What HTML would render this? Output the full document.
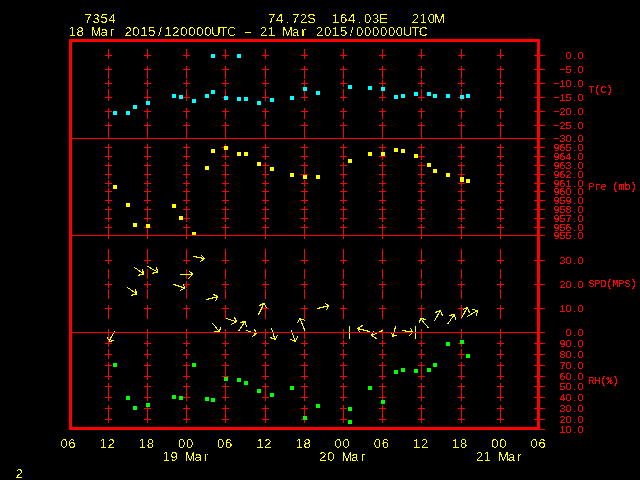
<!DOCTYPE html>
<html><head><meta charset="utf-8"><title>Meteogram 7354</title>
<style>
html,body{margin:0;padding:0;background:#000;}
body{width:640px;height:480px;overflow:hidden;}
svg{display:block;}
.y{fill:#ff0;font-family:"Liberation Sans",sans-serif;font-size:13px;text-anchor:middle;}
.r{fill:#f00;font-family:"Liberation Sans",sans-serif;font-size:10px;text-anchor:middle;}
.rm{fill:#f00;font-family:"Liberation Mono",monospace;font-size:10px;text-anchor:middle;}
</style></head><body>
<svg width="640" height="480" viewBox="0 0 640 480">
<defs><filter id="bin" x="0" y="0" width="640" height="480" filterUnits="userSpaceOnUse" color-interpolation-filters="sRGB"><feComponentTransfer><feFuncA type="discrete" tableValues="0 0 0 0 0 0 0 0 1 1 1 1 1 1 1 1 1 1 1 1"/></feComponentTransfer></filter><filter id="biny" x="0" y="0" width="640" height="480" filterUnits="userSpaceOnUse" color-interpolation-filters="sRGB"><feComponentTransfer><feFuncA type="discrete" tableValues="0 0 0 0 0 0 0 0 0 0 0 0 1 1 1 1 1 1 1 1"/></feComponentTransfer></filter><filter id="bina" x="0" y="0" width="640" height="480" filterUnits="userSpaceOnUse" color-interpolation-filters="sRGB"><feComponentTransfer><feFuncA type="discrete" tableValues="0 0 0 0 0 0 0 0 1 1 1 1 1 1 1 1 1 1 1 1"/></feComponentTransfer></filter></defs>
<rect width="640" height="480" fill="#000"/>
<g shape-rendering="crispEdges">

<g fill="#f00">
<rect x="108" y="49" width="1" height="10"/>
<rect x="108" y="66" width="1" height="13"/>
<rect x="108" y="80" width="1" height="7"/>
<rect x="108" y="89" width="1" height="12"/>
<rect x="108" y="108" width="1" height="11"/>
<rect x="108" y="122" width="1" height="17"/>
<rect x="108" y="144" width="1" height="16"/>
<rect x="108" y="162" width="1" height="17"/>
<rect x="108" y="180" width="1" height="7"/>
<rect x="108" y="188" width="1" height="16"/>
<rect x="108" y="206" width="1" height="16"/>
<rect x="108" y="224" width="1" height="15"/>
<rect x="108" y="249" width="1" height="15"/>
<rect x="108" y="269" width="1" height="10"/>
<rect x="108" y="281" width="1" height="7"/>
<rect x="108" y="289" width="1" height="10"/>
<rect x="108" y="305" width="1" height="14"/>
<rect x="108" y="329" width="1" height="3"/>
<rect x="105" y="55" width="7" height="1"/>
<rect x="105" y="69" width="7" height="1"/>
<rect x="105" y="83" width="7" height="1"/>
<rect x="105" y="97" width="7" height="1"/>
<rect x="105" y="111" width="7" height="1"/>
<rect x="105" y="125" width="7" height="1"/>
<rect x="105" y="147" width="7" height="1"/>
<rect x="105" y="156" width="7" height="1"/>
<rect x="105" y="165" width="7" height="1"/>
<rect x="105" y="174" width="7" height="1"/>
<rect x="105" y="183" width="7" height="1"/>
<rect x="105" y="191" width="7" height="1"/>
<rect x="105" y="200" width="7" height="1"/>
<rect x="105" y="209" width="7" height="1"/>
<rect x="105" y="218" width="7" height="1"/>
<rect x="105" y="227" width="7" height="1"/>
<rect x="105" y="260" width="7" height="1"/>
<rect x="105" y="284" width="7" height="1"/>
<rect x="105" y="308" width="7" height="1"/>
<rect x="147" y="49" width="1" height="10"/>
<rect x="147" y="66" width="1" height="13"/>
<rect x="147" y="80" width="1" height="7"/>
<rect x="147" y="89" width="1" height="12"/>
<rect x="147" y="108" width="1" height="11"/>
<rect x="147" y="122" width="1" height="17"/>
<rect x="147" y="144" width="1" height="16"/>
<rect x="147" y="162" width="1" height="17"/>
<rect x="147" y="180" width="1" height="7"/>
<rect x="147" y="188" width="1" height="16"/>
<rect x="147" y="206" width="1" height="16"/>
<rect x="147" y="224" width="1" height="15"/>
<rect x="147" y="249" width="1" height="15"/>
<rect x="147" y="269" width="1" height="10"/>
<rect x="147" y="281" width="1" height="7"/>
<rect x="147" y="289" width="1" height="10"/>
<rect x="147" y="305" width="1" height="14"/>
<rect x="147" y="329" width="1" height="3"/>
<rect x="144" y="55" width="7" height="1"/>
<rect x="144" y="69" width="7" height="1"/>
<rect x="144" y="83" width="7" height="1"/>
<rect x="144" y="97" width="7" height="1"/>
<rect x="144" y="111" width="7" height="1"/>
<rect x="144" y="125" width="7" height="1"/>
<rect x="144" y="147" width="7" height="1"/>
<rect x="144" y="156" width="7" height="1"/>
<rect x="144" y="165" width="7" height="1"/>
<rect x="144" y="174" width="7" height="1"/>
<rect x="144" y="183" width="7" height="1"/>
<rect x="144" y="191" width="7" height="1"/>
<rect x="144" y="200" width="7" height="1"/>
<rect x="144" y="209" width="7" height="1"/>
<rect x="144" y="218" width="7" height="1"/>
<rect x="144" y="227" width="7" height="1"/>
<rect x="144" y="260" width="7" height="1"/>
<rect x="144" y="284" width="7" height="1"/>
<rect x="144" y="308" width="7" height="1"/>
<rect x="186" y="49" width="1" height="10"/>
<rect x="186" y="66" width="1" height="13"/>
<rect x="186" y="80" width="1" height="7"/>
<rect x="186" y="89" width="1" height="12"/>
<rect x="186" y="108" width="1" height="11"/>
<rect x="186" y="122" width="1" height="17"/>
<rect x="186" y="144" width="1" height="16"/>
<rect x="186" y="162" width="1" height="17"/>
<rect x="186" y="180" width="1" height="7"/>
<rect x="186" y="188" width="1" height="16"/>
<rect x="186" y="206" width="1" height="16"/>
<rect x="186" y="224" width="1" height="15"/>
<rect x="186" y="249" width="1" height="15"/>
<rect x="186" y="269" width="1" height="10"/>
<rect x="186" y="281" width="1" height="7"/>
<rect x="186" y="289" width="1" height="10"/>
<rect x="186" y="305" width="1" height="14"/>
<rect x="186" y="329" width="1" height="3"/>
<rect x="183" y="55" width="7" height="1"/>
<rect x="183" y="69" width="7" height="1"/>
<rect x="183" y="83" width="7" height="1"/>
<rect x="183" y="97" width="7" height="1"/>
<rect x="183" y="111" width="7" height="1"/>
<rect x="183" y="125" width="7" height="1"/>
<rect x="183" y="147" width="7" height="1"/>
<rect x="183" y="156" width="7" height="1"/>
<rect x="183" y="165" width="7" height="1"/>
<rect x="183" y="174" width="7" height="1"/>
<rect x="183" y="183" width="7" height="1"/>
<rect x="183" y="191" width="7" height="1"/>
<rect x="183" y="200" width="7" height="1"/>
<rect x="183" y="209" width="7" height="1"/>
<rect x="183" y="218" width="7" height="1"/>
<rect x="183" y="227" width="7" height="1"/>
<rect x="183" y="260" width="7" height="1"/>
<rect x="183" y="284" width="7" height="1"/>
<rect x="183" y="308" width="7" height="1"/>
<rect x="225" y="49" width="1" height="10"/>
<rect x="225" y="66" width="1" height="13"/>
<rect x="225" y="80" width="1" height="7"/>
<rect x="225" y="89" width="1" height="12"/>
<rect x="225" y="108" width="1" height="11"/>
<rect x="225" y="122" width="1" height="17"/>
<rect x="225" y="144" width="1" height="16"/>
<rect x="225" y="162" width="1" height="17"/>
<rect x="225" y="180" width="1" height="7"/>
<rect x="225" y="188" width="1" height="16"/>
<rect x="225" y="206" width="1" height="16"/>
<rect x="225" y="224" width="1" height="15"/>
<rect x="225" y="249" width="1" height="15"/>
<rect x="225" y="269" width="1" height="10"/>
<rect x="225" y="281" width="1" height="7"/>
<rect x="225" y="289" width="1" height="10"/>
<rect x="225" y="305" width="1" height="14"/>
<rect x="225" y="329" width="1" height="3"/>
<rect x="222" y="55" width="7" height="1"/>
<rect x="222" y="69" width="7" height="1"/>
<rect x="222" y="83" width="7" height="1"/>
<rect x="222" y="97" width="7" height="1"/>
<rect x="222" y="111" width="7" height="1"/>
<rect x="222" y="125" width="7" height="1"/>
<rect x="222" y="147" width="7" height="1"/>
<rect x="222" y="156" width="7" height="1"/>
<rect x="222" y="165" width="7" height="1"/>
<rect x="222" y="174" width="7" height="1"/>
<rect x="222" y="183" width="7" height="1"/>
<rect x="222" y="191" width="7" height="1"/>
<rect x="222" y="200" width="7" height="1"/>
<rect x="222" y="209" width="7" height="1"/>
<rect x="222" y="218" width="7" height="1"/>
<rect x="222" y="227" width="7" height="1"/>
<rect x="222" y="260" width="7" height="1"/>
<rect x="222" y="284" width="7" height="1"/>
<rect x="222" y="308" width="7" height="1"/>
<rect x="265" y="49" width="1" height="10"/>
<rect x="265" y="66" width="1" height="13"/>
<rect x="265" y="80" width="1" height="7"/>
<rect x="265" y="89" width="1" height="12"/>
<rect x="265" y="108" width="1" height="11"/>
<rect x="265" y="122" width="1" height="17"/>
<rect x="265" y="144" width="1" height="16"/>
<rect x="265" y="162" width="1" height="17"/>
<rect x="265" y="180" width="1" height="7"/>
<rect x="265" y="188" width="1" height="16"/>
<rect x="265" y="206" width="1" height="16"/>
<rect x="265" y="224" width="1" height="15"/>
<rect x="265" y="249" width="1" height="15"/>
<rect x="265" y="269" width="1" height="10"/>
<rect x="265" y="281" width="1" height="7"/>
<rect x="265" y="289" width="1" height="10"/>
<rect x="265" y="305" width="1" height="14"/>
<rect x="265" y="329" width="1" height="3"/>
<rect x="262" y="55" width="7" height="1"/>
<rect x="262" y="69" width="7" height="1"/>
<rect x="262" y="83" width="7" height="1"/>
<rect x="262" y="97" width="7" height="1"/>
<rect x="262" y="111" width="7" height="1"/>
<rect x="262" y="125" width="7" height="1"/>
<rect x="262" y="147" width="7" height="1"/>
<rect x="262" y="156" width="7" height="1"/>
<rect x="262" y="165" width="7" height="1"/>
<rect x="262" y="174" width="7" height="1"/>
<rect x="262" y="183" width="7" height="1"/>
<rect x="262" y="191" width="7" height="1"/>
<rect x="262" y="200" width="7" height="1"/>
<rect x="262" y="209" width="7" height="1"/>
<rect x="262" y="218" width="7" height="1"/>
<rect x="262" y="227" width="7" height="1"/>
<rect x="262" y="260" width="7" height="1"/>
<rect x="262" y="284" width="7" height="1"/>
<rect x="262" y="308" width="7" height="1"/>
<rect x="304" y="49" width="1" height="10"/>
<rect x="304" y="66" width="1" height="13"/>
<rect x="304" y="80" width="1" height="7"/>
<rect x="304" y="89" width="1" height="12"/>
<rect x="304" y="108" width="1" height="11"/>
<rect x="304" y="122" width="1" height="17"/>
<rect x="304" y="144" width="1" height="16"/>
<rect x="304" y="162" width="1" height="17"/>
<rect x="304" y="180" width="1" height="7"/>
<rect x="304" y="188" width="1" height="16"/>
<rect x="304" y="206" width="1" height="16"/>
<rect x="304" y="224" width="1" height="15"/>
<rect x="304" y="249" width="1" height="15"/>
<rect x="304" y="269" width="1" height="10"/>
<rect x="304" y="281" width="1" height="7"/>
<rect x="304" y="289" width="1" height="10"/>
<rect x="304" y="305" width="1" height="14"/>
<rect x="304" y="329" width="1" height="3"/>
<rect x="301" y="55" width="7" height="1"/>
<rect x="301" y="69" width="7" height="1"/>
<rect x="301" y="83" width="7" height="1"/>
<rect x="301" y="97" width="7" height="1"/>
<rect x="301" y="111" width="7" height="1"/>
<rect x="301" y="125" width="7" height="1"/>
<rect x="301" y="147" width="7" height="1"/>
<rect x="301" y="156" width="7" height="1"/>
<rect x="301" y="165" width="7" height="1"/>
<rect x="301" y="174" width="7" height="1"/>
<rect x="301" y="183" width="7" height="1"/>
<rect x="301" y="191" width="7" height="1"/>
<rect x="301" y="200" width="7" height="1"/>
<rect x="301" y="209" width="7" height="1"/>
<rect x="301" y="218" width="7" height="1"/>
<rect x="301" y="227" width="7" height="1"/>
<rect x="301" y="260" width="7" height="1"/>
<rect x="301" y="284" width="7" height="1"/>
<rect x="301" y="308" width="7" height="1"/>
<rect x="343" y="49" width="1" height="10"/>
<rect x="343" y="66" width="1" height="13"/>
<rect x="343" y="80" width="1" height="7"/>
<rect x="343" y="89" width="1" height="12"/>
<rect x="343" y="108" width="1" height="11"/>
<rect x="343" y="122" width="1" height="17"/>
<rect x="343" y="144" width="1" height="16"/>
<rect x="343" y="162" width="1" height="17"/>
<rect x="343" y="180" width="1" height="7"/>
<rect x="343" y="188" width="1" height="16"/>
<rect x="343" y="206" width="1" height="16"/>
<rect x="343" y="224" width="1" height="15"/>
<rect x="343" y="249" width="1" height="15"/>
<rect x="343" y="269" width="1" height="10"/>
<rect x="343" y="281" width="1" height="7"/>
<rect x="343" y="289" width="1" height="10"/>
<rect x="343" y="305" width="1" height="14"/>
<rect x="343" y="329" width="1" height="3"/>
<rect x="340" y="55" width="7" height="1"/>
<rect x="340" y="69" width="7" height="1"/>
<rect x="340" y="83" width="7" height="1"/>
<rect x="340" y="97" width="7" height="1"/>
<rect x="340" y="111" width="7" height="1"/>
<rect x="340" y="125" width="7" height="1"/>
<rect x="340" y="147" width="7" height="1"/>
<rect x="340" y="156" width="7" height="1"/>
<rect x="340" y="165" width="7" height="1"/>
<rect x="340" y="174" width="7" height="1"/>
<rect x="340" y="183" width="7" height="1"/>
<rect x="340" y="191" width="7" height="1"/>
<rect x="340" y="200" width="7" height="1"/>
<rect x="340" y="209" width="7" height="1"/>
<rect x="340" y="218" width="7" height="1"/>
<rect x="340" y="227" width="7" height="1"/>
<rect x="340" y="260" width="7" height="1"/>
<rect x="340" y="284" width="7" height="1"/>
<rect x="340" y="308" width="7" height="1"/>
<rect x="382" y="49" width="1" height="10"/>
<rect x="382" y="66" width="1" height="13"/>
<rect x="382" y="80" width="1" height="7"/>
<rect x="382" y="89" width="1" height="12"/>
<rect x="382" y="108" width="1" height="11"/>
<rect x="382" y="122" width="1" height="17"/>
<rect x="382" y="144" width="1" height="16"/>
<rect x="382" y="162" width="1" height="17"/>
<rect x="382" y="180" width="1" height="7"/>
<rect x="382" y="188" width="1" height="16"/>
<rect x="382" y="206" width="1" height="16"/>
<rect x="382" y="224" width="1" height="15"/>
<rect x="382" y="249" width="1" height="15"/>
<rect x="382" y="269" width="1" height="10"/>
<rect x="382" y="281" width="1" height="7"/>
<rect x="382" y="289" width="1" height="10"/>
<rect x="382" y="305" width="1" height="14"/>
<rect x="382" y="329" width="1" height="3"/>
<rect x="379" y="55" width="7" height="1"/>
<rect x="379" y="69" width="7" height="1"/>
<rect x="379" y="83" width="7" height="1"/>
<rect x="379" y="97" width="7" height="1"/>
<rect x="379" y="111" width="7" height="1"/>
<rect x="379" y="125" width="7" height="1"/>
<rect x="379" y="147" width="7" height="1"/>
<rect x="379" y="156" width="7" height="1"/>
<rect x="379" y="165" width="7" height="1"/>
<rect x="379" y="174" width="7" height="1"/>
<rect x="379" y="183" width="7" height="1"/>
<rect x="379" y="191" width="7" height="1"/>
<rect x="379" y="200" width="7" height="1"/>
<rect x="379" y="209" width="7" height="1"/>
<rect x="379" y="218" width="7" height="1"/>
<rect x="379" y="227" width="7" height="1"/>
<rect x="379" y="260" width="7" height="1"/>
<rect x="379" y="284" width="7" height="1"/>
<rect x="379" y="308" width="7" height="1"/>
<rect x="421" y="49" width="1" height="10"/>
<rect x="421" y="66" width="1" height="13"/>
<rect x="421" y="80" width="1" height="7"/>
<rect x="421" y="89" width="1" height="12"/>
<rect x="421" y="108" width="1" height="11"/>
<rect x="421" y="122" width="1" height="17"/>
<rect x="421" y="144" width="1" height="16"/>
<rect x="421" y="162" width="1" height="17"/>
<rect x="421" y="180" width="1" height="7"/>
<rect x="421" y="188" width="1" height="16"/>
<rect x="421" y="206" width="1" height="16"/>
<rect x="421" y="224" width="1" height="15"/>
<rect x="421" y="249" width="1" height="15"/>
<rect x="421" y="269" width="1" height="10"/>
<rect x="421" y="281" width="1" height="7"/>
<rect x="421" y="289" width="1" height="10"/>
<rect x="421" y="305" width="1" height="14"/>
<rect x="421" y="329" width="1" height="3"/>
<rect x="418" y="55" width="7" height="1"/>
<rect x="418" y="69" width="7" height="1"/>
<rect x="418" y="83" width="7" height="1"/>
<rect x="418" y="97" width="7" height="1"/>
<rect x="418" y="111" width="7" height="1"/>
<rect x="418" y="125" width="7" height="1"/>
<rect x="418" y="147" width="7" height="1"/>
<rect x="418" y="156" width="7" height="1"/>
<rect x="418" y="165" width="7" height="1"/>
<rect x="418" y="174" width="7" height="1"/>
<rect x="418" y="183" width="7" height="1"/>
<rect x="418" y="191" width="7" height="1"/>
<rect x="418" y="200" width="7" height="1"/>
<rect x="418" y="209" width="7" height="1"/>
<rect x="418" y="218" width="7" height="1"/>
<rect x="418" y="227" width="7" height="1"/>
<rect x="418" y="260" width="7" height="1"/>
<rect x="418" y="284" width="7" height="1"/>
<rect x="418" y="308" width="7" height="1"/>
<rect x="461" y="49" width="1" height="10"/>
<rect x="461" y="66" width="1" height="13"/>
<rect x="461" y="80" width="1" height="7"/>
<rect x="461" y="89" width="1" height="12"/>
<rect x="461" y="108" width="1" height="11"/>
<rect x="461" y="122" width="1" height="17"/>
<rect x="461" y="144" width="1" height="16"/>
<rect x="461" y="162" width="1" height="17"/>
<rect x="461" y="180" width="1" height="7"/>
<rect x="461" y="188" width="1" height="16"/>
<rect x="461" y="206" width="1" height="16"/>
<rect x="461" y="224" width="1" height="15"/>
<rect x="461" y="249" width="1" height="15"/>
<rect x="461" y="269" width="1" height="10"/>
<rect x="461" y="281" width="1" height="7"/>
<rect x="461" y="289" width="1" height="10"/>
<rect x="461" y="305" width="1" height="14"/>
<rect x="461" y="329" width="1" height="3"/>
<rect x="458" y="55" width="7" height="1"/>
<rect x="458" y="69" width="7" height="1"/>
<rect x="458" y="83" width="7" height="1"/>
<rect x="458" y="97" width="7" height="1"/>
<rect x="458" y="111" width="7" height="1"/>
<rect x="458" y="125" width="7" height="1"/>
<rect x="458" y="147" width="7" height="1"/>
<rect x="458" y="156" width="7" height="1"/>
<rect x="458" y="165" width="7" height="1"/>
<rect x="458" y="174" width="7" height="1"/>
<rect x="458" y="183" width="7" height="1"/>
<rect x="458" y="191" width="7" height="1"/>
<rect x="458" y="200" width="7" height="1"/>
<rect x="458" y="209" width="7" height="1"/>
<rect x="458" y="218" width="7" height="1"/>
<rect x="458" y="227" width="7" height="1"/>
<rect x="458" y="260" width="7" height="1"/>
<rect x="458" y="284" width="7" height="1"/>
<rect x="458" y="308" width="7" height="1"/>
<rect x="500" y="49" width="1" height="10"/>
<rect x="500" y="66" width="1" height="13"/>
<rect x="500" y="80" width="1" height="7"/>
<rect x="500" y="89" width="1" height="12"/>
<rect x="500" y="108" width="1" height="11"/>
<rect x="500" y="122" width="1" height="17"/>
<rect x="500" y="144" width="1" height="16"/>
<rect x="500" y="162" width="1" height="17"/>
<rect x="500" y="180" width="1" height="7"/>
<rect x="500" y="188" width="1" height="16"/>
<rect x="500" y="206" width="1" height="16"/>
<rect x="500" y="224" width="1" height="15"/>
<rect x="500" y="249" width="1" height="15"/>
<rect x="500" y="269" width="1" height="10"/>
<rect x="500" y="281" width="1" height="7"/>
<rect x="500" y="289" width="1" height="10"/>
<rect x="500" y="305" width="1" height="14"/>
<rect x="500" y="329" width="1" height="3"/>
<rect x="497" y="55" width="7" height="1"/>
<rect x="497" y="69" width="7" height="1"/>
<rect x="497" y="83" width="7" height="1"/>
<rect x="497" y="97" width="7" height="1"/>
<rect x="497" y="111" width="7" height="1"/>
<rect x="497" y="125" width="7" height="1"/>
<rect x="497" y="147" width="7" height="1"/>
<rect x="497" y="156" width="7" height="1"/>
<rect x="497" y="165" width="7" height="1"/>
<rect x="497" y="174" width="7" height="1"/>
<rect x="497" y="183" width="7" height="1"/>
<rect x="497" y="191" width="7" height="1"/>
<rect x="497" y="200" width="7" height="1"/>
<rect x="497" y="209" width="7" height="1"/>
<rect x="497" y="218" width="7" height="1"/>
<rect x="497" y="227" width="7" height="1"/>
<rect x="497" y="260" width="7" height="1"/>
<rect x="497" y="284" width="7" height="1"/>
<rect x="497" y="308" width="7" height="1"/>
<rect x="534" y="55" width="11" height="1"/>
<rect x="534" y="69" width="11" height="1"/>
<rect x="534" y="83" width="11" height="1"/>
<rect x="534" y="97" width="11" height="1"/>
<rect x="534" y="111" width="11" height="1"/>
<rect x="534" y="125" width="11" height="1"/>
<rect x="534" y="147" width="11" height="1"/>
<rect x="534" y="156" width="11" height="1"/>
<rect x="534" y="165" width="11" height="1"/>
<rect x="534" y="174" width="11" height="1"/>
<rect x="534" y="183" width="11" height="1"/>
<rect x="534" y="191" width="11" height="1"/>
<rect x="534" y="200" width="11" height="1"/>
<rect x="534" y="209" width="11" height="1"/>
<rect x="534" y="218" width="11" height="1"/>
<rect x="534" y="227" width="11" height="1"/>
<rect x="534" y="260" width="11" height="1"/>
<rect x="534" y="284" width="11" height="1"/>
<rect x="534" y="308" width="11" height="1"/>
</g>

<g fill="#0ff">
<rect x="113" y="111" width="4" height="4"/>
<rect x="126" y="111" width="4" height="4"/>
<rect x="133" y="105" width="4" height="4"/>
<rect x="146" y="101" width="4" height="4"/>
<rect x="172" y="94" width="4" height="4"/>
<rect x="179" y="95" width="4" height="4"/>
<rect x="192" y="99" width="4" height="4"/>
<rect x="205" y="94" width="4" height="4"/>
<rect x="211" y="90" width="4" height="4"/>
<rect x="211" y="54" width="4" height="4"/>
<rect x="237" y="54" width="4" height="4"/>
<rect x="224" y="96" width="4" height="4"/>
<rect x="237" y="97" width="4" height="4"/>
<rect x="244" y="97" width="4" height="4"/>
<rect x="257" y="101" width="4" height="4"/>
<rect x="270" y="98" width="4" height="4"/>
<rect x="290" y="96" width="4" height="4"/>
<rect x="303" y="87" width="4" height="4"/>
<rect x="316" y="91" width="4" height="4"/>
<rect x="348" y="85" width="4" height="4"/>
<rect x="368" y="86" width="4" height="4"/>
<rect x="381" y="87" width="4" height="4"/>
<rect x="394" y="95" width="4" height="4"/>
<rect x="401" y="94" width="4" height="4"/>
<rect x="414" y="92" width="4" height="4"/>
<rect x="427" y="92" width="4" height="4"/>
<rect x="433" y="94" width="4" height="4"/>
<rect x="446" y="94" width="4" height="4"/>
<rect x="460" y="95" width="4" height="4"/>
<rect x="466" y="94" width="4" height="4"/>
</g>

<rect x="72" y="138" width="473" height="1" fill="#f00"/>
<g fill="#ff0">
<rect x="113" y="185" width="4" height="4"/>
<rect x="126" y="203" width="4" height="4"/>
<rect x="133" y="223" width="4" height="4"/>
<rect x="146" y="224" width="4" height="4"/>
<rect x="172" y="204" width="4" height="4"/>
<rect x="179" y="216" width="4" height="4"/>
<rect x="192" y="232" width="4" height="4"/>
<rect x="205" y="166" width="4" height="4"/>
<rect x="211" y="149" width="4" height="4"/>
<rect x="224" y="146" width="4" height="4"/>
<rect x="237" y="152" width="4" height="4"/>
<rect x="244" y="152" width="4" height="4"/>
<rect x="257" y="162" width="4" height="4"/>
<rect x="270" y="167" width="4" height="4"/>
<rect x="290" y="173" width="4" height="4"/>
<rect x="303" y="175" width="4" height="4"/>
<rect x="316" y="175" width="4" height="4"/>
<rect x="348" y="159" width="4" height="4"/>
<rect x="368" y="152" width="4" height="4"/>
<rect x="381" y="152" width="4" height="4"/>
<rect x="394" y="148" width="4" height="4"/>
<rect x="401" y="149" width="4" height="4"/>
<rect x="414" y="154" width="4" height="4"/>
<rect x="427" y="163" width="4" height="4"/>
<rect x="433" y="169" width="4" height="4"/>
<rect x="446" y="173" width="4" height="4"/>
<rect x="460" y="177" width="4" height="4"/>
<rect x="460" y="178" width="4" height="4"/>
<rect x="466" y="179" width="4" height="4"/>
</g>

<rect x="72" y="235" width="473" height="1" fill="#f00"/>
</g>

<g filter="url(#bina)"><g stroke="#ff0" stroke-width="1" fill="none" stroke-linecap="butt">
<path d="M114.5 331L109 341.5M107 336.5L109 341.5L113.5 340.5"/>
<path d="M134 267L143.5 274M142.5 269L143.5 274L138 275.5"/>
<path d="M147 266L157.5 272M156.5 267L157.5 272L152 273.5"/>
<path d="M127 287L136.5 294M135.5 289L136.5 294L131 295.5"/>
<path d="M193 256.25L204.5 258.5M201 254.5L204.5 258.5L200.25 261.75"/>
<path d="M180 274.25L192.75 274.25M188.5 270.25L192.75 274.25L188.5 278.5"/>
<path d="M173 284.25L185 288M183 283.5L185 288L179.5 290.75"/>
<path d="M206.25 299.5L217.75 296.75M213.5 294.5L217.75 296.75L215.5 300.75"/>
<path d="M225.5 318.25L236.5 321.75M234.5 317.25L236.5 321.75L231.25 324.5"/>
<path d="M212.25 323.25L219.5 331.5M220.5 327.25L219.5 331.5L214.25 331.5"/>
<path d="M238.25 331.5L245 321.5M240.25 322.5L245 321.5L246.5 326.5"/>
<path d="M245.5 330.25L256.5 333.75M254.5 329.25L256.5 333.75L251.5 336.75"/>
<path d="M258.5 314.5L264 303.25M259.25 305.5L264 303.25L266.5 307.75"/>
<path d="M271.5 328.25L275 339.5M277.75 334.5L275 339.5L270.25 337.5"/>
<path d="M291.25 330.25L295.25 341.5M297.75 336.25L295.25 341.5L290.25 339.25"/>
<path d="M305 330.75L300 318.5M297.25 323.5L300 318.5L305 320.5"/>
<path d="M317.25 308.5L328.75 305.75M324.5 303.25L328.75 305.75L326.5 309.5"/>
<path d="M369.5 331.5L357.5 328.5M362.75 325.25L357.5 328.5L360.75 333.25"/>
<path d="M382.5 330.5L371.5 335.75M373.5 331.5L371.5 335.75L376.5 338.5"/>
<path d="M395.75 325.5L393 336.5M391 332L393 336.5L396.75 335"/>
<path d="M402.25 330.5L412.6 332M410.5 328.4L412.6 332L409.4 335.6"/>
<path d="M428.75 328.5L420.5 318.5M419.25 323.5L420.5 318.5L425.75 319.5"/>
<path d="M434.25 321.5L440.25 310.5M435.25 312.5L440.25 310.5L442.5 315.5"/>
<path d="M447.25 324.5L454.5 314.5M449.25 315.5L454.5 314.5L455.5 319.5"/>
<path d="M461.25 318.5L467.25 307.5M463.25 309.5L467.25 307.5L469.5 312.5"/>
<path d="M467.25 316.5L477.5 310.5M472.5 309.5L477.5 310.5L476.5 315.5"/>
</g></g>
<g shape-rendering="crispEdges">
<g fill="#ff0">
<rect x="349" y="326" width="1" height="13"/>
<rect x="415" y="326" width="1" height="13"/>
</g>

<g fill="#f00">
<rect x="108" y="332" width="1" height="7"/>
<rect x="108" y="340" width="1" height="7"/>
<rect x="108" y="349" width="1" height="10"/>
<rect x="108" y="362" width="1" height="18"/>
<rect x="108" y="383" width="1" height="18"/>
<rect x="108" y="405" width="1" height="18"/>
<rect x="105" y="343" width="7" height="1"/>
<rect x="105" y="354" width="7" height="1"/>
<rect x="105" y="365" width="7" height="1"/>
<rect x="105" y="376" width="7" height="1"/>
<rect x="105" y="386" width="7" height="1"/>
<rect x="105" y="397" width="7" height="1"/>
<rect x="105" y="408" width="7" height="1"/>
<rect x="105" y="419" width="7" height="1"/>
<rect x="147" y="332" width="1" height="7"/>
<rect x="147" y="340" width="1" height="7"/>
<rect x="147" y="349" width="1" height="10"/>
<rect x="147" y="362" width="1" height="18"/>
<rect x="147" y="383" width="1" height="18"/>
<rect x="147" y="405" width="1" height="18"/>
<rect x="144" y="343" width="7" height="1"/>
<rect x="144" y="354" width="7" height="1"/>
<rect x="144" y="365" width="7" height="1"/>
<rect x="144" y="376" width="7" height="1"/>
<rect x="144" y="386" width="7" height="1"/>
<rect x="144" y="397" width="7" height="1"/>
<rect x="144" y="408" width="7" height="1"/>
<rect x="144" y="419" width="7" height="1"/>
<rect x="186" y="332" width="1" height="7"/>
<rect x="186" y="340" width="1" height="7"/>
<rect x="186" y="349" width="1" height="10"/>
<rect x="186" y="362" width="1" height="18"/>
<rect x="186" y="383" width="1" height="18"/>
<rect x="186" y="405" width="1" height="18"/>
<rect x="183" y="343" width="7" height="1"/>
<rect x="183" y="354" width="7" height="1"/>
<rect x="183" y="365" width="7" height="1"/>
<rect x="183" y="376" width="7" height="1"/>
<rect x="183" y="386" width="7" height="1"/>
<rect x="183" y="397" width="7" height="1"/>
<rect x="183" y="408" width="7" height="1"/>
<rect x="183" y="419" width="7" height="1"/>
<rect x="225" y="332" width="1" height="7"/>
<rect x="225" y="340" width="1" height="7"/>
<rect x="225" y="349" width="1" height="10"/>
<rect x="225" y="362" width="1" height="18"/>
<rect x="225" y="383" width="1" height="18"/>
<rect x="225" y="405" width="1" height="18"/>
<rect x="222" y="343" width="7" height="1"/>
<rect x="222" y="354" width="7" height="1"/>
<rect x="222" y="365" width="7" height="1"/>
<rect x="222" y="376" width="7" height="1"/>
<rect x="222" y="386" width="7" height="1"/>
<rect x="222" y="397" width="7" height="1"/>
<rect x="222" y="408" width="7" height="1"/>
<rect x="222" y="419" width="7" height="1"/>
<rect x="265" y="332" width="1" height="7"/>
<rect x="265" y="340" width="1" height="7"/>
<rect x="265" y="349" width="1" height="10"/>
<rect x="265" y="362" width="1" height="18"/>
<rect x="265" y="383" width="1" height="18"/>
<rect x="265" y="405" width="1" height="18"/>
<rect x="262" y="343" width="7" height="1"/>
<rect x="262" y="354" width="7" height="1"/>
<rect x="262" y="365" width="7" height="1"/>
<rect x="262" y="376" width="7" height="1"/>
<rect x="262" y="386" width="7" height="1"/>
<rect x="262" y="397" width="7" height="1"/>
<rect x="262" y="408" width="7" height="1"/>
<rect x="262" y="419" width="7" height="1"/>
<rect x="304" y="332" width="1" height="7"/>
<rect x="304" y="340" width="1" height="7"/>
<rect x="304" y="349" width="1" height="10"/>
<rect x="304" y="362" width="1" height="18"/>
<rect x="304" y="383" width="1" height="18"/>
<rect x="304" y="405" width="1" height="18"/>
<rect x="301" y="343" width="7" height="1"/>
<rect x="301" y="354" width="7" height="1"/>
<rect x="301" y="365" width="7" height="1"/>
<rect x="301" y="376" width="7" height="1"/>
<rect x="301" y="386" width="7" height="1"/>
<rect x="301" y="397" width="7" height="1"/>
<rect x="301" y="408" width="7" height="1"/>
<rect x="301" y="419" width="7" height="1"/>
<rect x="343" y="332" width="1" height="7"/>
<rect x="343" y="340" width="1" height="7"/>
<rect x="343" y="349" width="1" height="10"/>
<rect x="343" y="362" width="1" height="18"/>
<rect x="343" y="383" width="1" height="18"/>
<rect x="343" y="405" width="1" height="18"/>
<rect x="340" y="343" width="7" height="1"/>
<rect x="340" y="354" width="7" height="1"/>
<rect x="340" y="365" width="7" height="1"/>
<rect x="340" y="376" width="7" height="1"/>
<rect x="340" y="386" width="7" height="1"/>
<rect x="340" y="397" width="7" height="1"/>
<rect x="340" y="408" width="7" height="1"/>
<rect x="340" y="419" width="7" height="1"/>
<rect x="382" y="332" width="1" height="7"/>
<rect x="382" y="340" width="1" height="7"/>
<rect x="382" y="349" width="1" height="10"/>
<rect x="382" y="362" width="1" height="18"/>
<rect x="382" y="383" width="1" height="18"/>
<rect x="382" y="405" width="1" height="18"/>
<rect x="379" y="343" width="7" height="1"/>
<rect x="379" y="354" width="7" height="1"/>
<rect x="379" y="365" width="7" height="1"/>
<rect x="379" y="376" width="7" height="1"/>
<rect x="379" y="386" width="7" height="1"/>
<rect x="379" y="397" width="7" height="1"/>
<rect x="379" y="408" width="7" height="1"/>
<rect x="379" y="419" width="7" height="1"/>
<rect x="421" y="332" width="1" height="7"/>
<rect x="421" y="340" width="1" height="7"/>
<rect x="421" y="349" width="1" height="10"/>
<rect x="421" y="362" width="1" height="18"/>
<rect x="421" y="383" width="1" height="18"/>
<rect x="421" y="405" width="1" height="18"/>
<rect x="418" y="343" width="7" height="1"/>
<rect x="418" y="354" width="7" height="1"/>
<rect x="418" y="365" width="7" height="1"/>
<rect x="418" y="376" width="7" height="1"/>
<rect x="418" y="386" width="7" height="1"/>
<rect x="418" y="397" width="7" height="1"/>
<rect x="418" y="408" width="7" height="1"/>
<rect x="418" y="419" width="7" height="1"/>
<rect x="461" y="332" width="1" height="7"/>
<rect x="461" y="340" width="1" height="7"/>
<rect x="461" y="349" width="1" height="10"/>
<rect x="461" y="362" width="1" height="18"/>
<rect x="461" y="383" width="1" height="18"/>
<rect x="461" y="405" width="1" height="18"/>
<rect x="458" y="343" width="7" height="1"/>
<rect x="458" y="354" width="7" height="1"/>
<rect x="458" y="365" width="7" height="1"/>
<rect x="458" y="376" width="7" height="1"/>
<rect x="458" y="386" width="7" height="1"/>
<rect x="458" y="397" width="7" height="1"/>
<rect x="458" y="408" width="7" height="1"/>
<rect x="458" y="419" width="7" height="1"/>
<rect x="500" y="332" width="1" height="7"/>
<rect x="500" y="340" width="1" height="7"/>
<rect x="500" y="349" width="1" height="10"/>
<rect x="500" y="362" width="1" height="18"/>
<rect x="500" y="383" width="1" height="18"/>
<rect x="500" y="405" width="1" height="18"/>
<rect x="497" y="343" width="7" height="1"/>
<rect x="497" y="354" width="7" height="1"/>
<rect x="497" y="365" width="7" height="1"/>
<rect x="497" y="376" width="7" height="1"/>
<rect x="497" y="386" width="7" height="1"/>
<rect x="497" y="397" width="7" height="1"/>
<rect x="497" y="408" width="7" height="1"/>
<rect x="497" y="419" width="7" height="1"/>
<rect x="534" y="343" width="11" height="1"/>
<rect x="534" y="354" width="11" height="1"/>
<rect x="534" y="365" width="11" height="1"/>
<rect x="534" y="376" width="11" height="1"/>
<rect x="534" y="386" width="11" height="1"/>
<rect x="534" y="397" width="11" height="1"/>
<rect x="534" y="408" width="11" height="1"/>
<rect x="534" y="419" width="11" height="1"/>
<rect x="534" y="429" width="11" height="1"/>
</g>

<rect x="72" y="332" width="473" height="1" fill="#f00"/>
<g fill="#0f0">
<rect x="113" y="363" width="4" height="4"/>
<rect x="126" y="396" width="4" height="4"/>
<rect x="133" y="406" width="4" height="4"/>
<rect x="146" y="403" width="4" height="4"/>
<rect x="172" y="395" width="4" height="4"/>
<rect x="179" y="396" width="4" height="4"/>
<rect x="192" y="363" width="4" height="4"/>
<rect x="205" y="397" width="4" height="4"/>
<rect x="211" y="398" width="4" height="4"/>
<rect x="224" y="377" width="4" height="4"/>
<rect x="237" y="378" width="4" height="4"/>
<rect x="244" y="381" width="4" height="4"/>
<rect x="257" y="389" width="4" height="4"/>
<rect x="270" y="393" width="4" height="4"/>
<rect x="290" y="386" width="4" height="4"/>
<rect x="303" y="416" width="4" height="4"/>
<rect x="316" y="404" width="4" height="4"/>
<rect x="348" y="407" width="4" height="4"/>
<rect x="348" y="420" width="4" height="4"/>
<rect x="368" y="386" width="4" height="4"/>
<rect x="381" y="400" width="4" height="4"/>
<rect x="394" y="370" width="4" height="4"/>
<rect x="401" y="368" width="4" height="4"/>
<rect x="414" y="369" width="4" height="4"/>
<rect x="427" y="368" width="4" height="4"/>
<rect x="433" y="363" width="4" height="4"/>
<rect x="446" y="342" width="4" height="4"/>
<rect x="460" y="340" width="4" height="4"/>
<rect x="466" y="354" width="4" height="4"/>
</g>

<g fill="#f00"><rect x="69" y="39" width="471" height="3"/><rect x="69" y="427" width="471" height="3"/><rect x="69" y="39" width="3" height="391"/><rect x="537" y="39" width="3" height="391"/></g>
</g>

<g filter="url(#biny)">
<text class="y" x="88.07 96.05 104.04 112.02" y="23" xml:space="preserve">7354</text>
<text class="y" x="271.73 279.71 287.7 295.68 303.67 311.65 319.64 327.62 335.61 343.59 351.58 359.56 367.55 375.53 383.52 391.5 399.49 407.47 415.46 423.44 431.43 439.41" y="23" xml:space="preserve">74.72S  164.03E   210M</text>
<text class="y" x="72.1 80.08 88.07 96.05 104.04 112.03 120.01 128 135.98 143.97 151.95 159.94 167.92 175.91 183.89 191.88 199.86 207.84 215.83 223.81 231.8" y="36" xml:space="preserve">18 Mar 2015/120000UTC</text>
<text class="y" transform="translate(248.07,36) scale(2,1)" x="0" y="0">-</text>
<text class="y" x="263.74 271.73 279.71 287.69 295.68 303.67 311.65 319.63 327.62 335.61 343.59 351.58 359.56 367.55 375.53 383.51 391.5 399.49 407.47 415.46 423.44" y="36" xml:space="preserve">21 Mar 2015/000000UTC</text>
<text class="y" x="64.01 71.99" y="448" xml:space="preserve">06</text>
<text class="y" x="103.18 111.16" y="448" xml:space="preserve">12</text>
<text class="y" x="142.35 150.33" y="448" xml:space="preserve">18</text>
<text class="y" x="181.52 189.5" y="448" xml:space="preserve">00</text>
<text class="y" x="220.69 228.67" y="448" xml:space="preserve">06</text>
<text class="y" x="259.86 267.84" y="448" xml:space="preserve">12</text>
<text class="y" x="299.03 307.01" y="448" xml:space="preserve">18</text>
<text class="y" x="338.2 346.18" y="448" xml:space="preserve">00</text>
<text class="y" x="377.37 385.35" y="448" xml:space="preserve">06</text>
<text class="y" x="416.54 424.52" y="448" xml:space="preserve">12</text>
<text class="y" x="455.71 463.69" y="448" xml:space="preserve">18</text>
<text class="y" x="494.88 502.86" y="448" xml:space="preserve">00</text>
<text class="y" x="534.05 542.03" y="448" xml:space="preserve">06</text>
<text class="y" x="166.25 174.24 182.22 190.21 198.19 206.18" y="461" xml:space="preserve">19 Mar</text>
<text class="y" x="322.9 330.88 338.87 346.85 354.84 362.82" y="461" xml:space="preserve">20 Mar</text>
<text class="y" x="479.5 487.49 495.47 503.45 511.44 519.42" y="461" xml:space="preserve">21 Mar</text>
<text class="y" x="19" y="478" xml:space="preserve">2</text>
</g>
<g filter="url(#bin)">
<text class="r" transform="translate(568.60,59) rotate(0.05) scale(1.1,1)" x="0 5.45 10.91" y="0" xml:space="preserve">0.0</text>
<text class="r" transform="translate(562.30,72.3) rotate(0.05) scale(2.0,1)" x="0" y="0">-</text>
<text class="r" transform="translate(568.60,73) rotate(0.05) scale(1.1,1)" x="0 5.45 10.91" y="0" xml:space="preserve">5.0</text>
<text class="r" transform="translate(556.30,86.3) rotate(0.05) scale(2.0,1)" x="0" y="0">-</text>
<text class="r" transform="translate(562.60,87) rotate(0.05) scale(1.1,1)" x="0 5.45 10.91 16.36" y="0" xml:space="preserve">10.0</text>
<text class="r" transform="translate(556.30,100.3) rotate(0.05) scale(2.0,1)" x="0" y="0">-</text>
<text class="r" transform="translate(562.60,101) rotate(0.05) scale(1.1,1)" x="0 5.45 10.91 16.36" y="0" xml:space="preserve">15.0</text>
<text class="r" transform="translate(556.30,114.3) rotate(0.05) scale(2.0,1)" x="0" y="0">-</text>
<text class="r" transform="translate(562.60,115) rotate(0.05) scale(1.1,1)" x="0 5.45 10.91 16.36" y="0" xml:space="preserve">20.0</text>
<text class="r" transform="translate(556.30,128.3) rotate(0.05) scale(2.0,1)" x="0" y="0">-</text>
<text class="r" transform="translate(562.60,129) rotate(0.05) scale(1.1,1)" x="0 5.45 10.91 16.36" y="0" xml:space="preserve">25.0</text>
<text class="r" transform="translate(556.30,141.3) rotate(0.05) scale(2.0,1)" x="0" y="0">-</text>
<text class="r" transform="translate(562.60,142) rotate(0.05) scale(1.1,1)" x="0 5.45 10.91 16.36" y="0" xml:space="preserve">30.0</text>
<text class="r" transform="translate(556.60,151) rotate(0.05) scale(1.1,1)" x="0 5.45 10.91 16.36 21.82" y="0" xml:space="preserve">965.0</text>
<text class="r" transform="translate(556.60,160) rotate(0.05) scale(1.1,1)" x="0 5.45 10.91 16.36 21.82" y="0" xml:space="preserve">964.0</text>
<text class="r" transform="translate(556.60,169) rotate(0.05) scale(1.1,1)" x="0 5.45 10.91 16.36 21.82" y="0" xml:space="preserve">963.0</text>
<text class="r" transform="translate(556.60,178) rotate(0.05) scale(1.1,1)" x="0 5.45 10.91 16.36 21.82" y="0" xml:space="preserve">962.0</text>
<text class="r" transform="translate(556.60,187) rotate(0.05) scale(1.1,1)" x="0 5.45 10.91 16.36 21.82" y="0" xml:space="preserve">961.0</text>
<text class="r" transform="translate(556.60,195) rotate(0.05) scale(1.1,1)" x="0 5.45 10.91 16.36 21.82" y="0" xml:space="preserve">960.0</text>
<text class="r" transform="translate(556.60,204) rotate(0.05) scale(1.1,1)" x="0 5.45 10.91 16.36 21.82" y="0" xml:space="preserve">959.0</text>
<text class="r" transform="translate(556.60,213) rotate(0.05) scale(1.1,1)" x="0 5.45 10.91 16.36 21.82" y="0" xml:space="preserve">958.0</text>
<text class="r" transform="translate(556.60,222) rotate(0.05) scale(1.1,1)" x="0 5.45 10.91 16.36 21.82" y="0" xml:space="preserve">957.0</text>
<text class="r" transform="translate(556.60,231) rotate(0.05) scale(1.1,1)" x="0 5.45 10.91 16.36 21.82" y="0" xml:space="preserve">956.0</text>
<text class="r" transform="translate(556.60,239) rotate(0.05) scale(1.1,1)" x="0 5.45 10.91 16.36 21.82" y="0" xml:space="preserve">955.0</text>
<text class="r" transform="translate(562.60,264) rotate(0.05) scale(1.1,1)" x="0 5.45 10.91 16.36" y="0" xml:space="preserve">30.0</text>
<text class="r" transform="translate(562.60,288) rotate(0.05) scale(1.1,1)" x="0 5.45 10.91 16.36" y="0" xml:space="preserve">20.0</text>
<text class="r" transform="translate(562.60,312) rotate(0.05) scale(1.1,1)" x="0 5.45 10.91 16.36" y="0" xml:space="preserve">10.0</text>
<text class="r" transform="translate(568.60,336) rotate(0.05) scale(1.1,1)" x="0 5.45 10.91" y="0" xml:space="preserve">0.0</text>
<text class="r" transform="translate(562.60,347) rotate(0.05) scale(1.1,1)" x="0 5.45 10.91 16.36" y="0" xml:space="preserve">90.0</text>
<text class="r" transform="translate(562.60,358) rotate(0.05) scale(1.1,1)" x="0 5.45 10.91 16.36" y="0" xml:space="preserve">80.0</text>
<text class="r" transform="translate(562.60,369) rotate(0.05) scale(1.1,1)" x="0 5.45 10.91 16.36" y="0" xml:space="preserve">70.0</text>
<text class="r" transform="translate(562.60,380) rotate(0.05) scale(1.1,1)" x="0 5.45 10.91 16.36" y="0" xml:space="preserve">60.0</text>
<text class="r" transform="translate(562.60,390) rotate(0.05) scale(1.1,1)" x="0 5.45 10.91 16.36" y="0" xml:space="preserve">50.0</text>
<text class="r" transform="translate(562.60,401) rotate(0.05) scale(1.1,1)" x="0 5.45 10.91 16.36" y="0" xml:space="preserve">40.0</text>
<text class="r" transform="translate(562.60,412) rotate(0.05) scale(1.1,1)" x="0 5.45 10.91 16.36" y="0" xml:space="preserve">30.0</text>
<text class="r" transform="translate(562.60,423) rotate(0.05) scale(1.1,1)" x="0 5.45 10.91 16.36" y="0" xml:space="preserve">20.0</text>
<text class="r" transform="translate(562.60,433) rotate(0.05) scale(1.1,1)" x="0 5.45 10.91 16.36" y="0" xml:space="preserve">10.0</text>
<text class="rm" x="591.5 597.5 603.5 609.5" y="93" xml:space="preserve">T(C)</text>
<text class="rm" x="591.5 597.5 603.5 609.5 615.5 621.5 627.5 633.5" y="190" xml:space="preserve">Pre (mb)</text>
<text class="rm" x="591.5 597.5 603.5 609.5 615.5 621.5 627.5 633.5" y="287" xml:space="preserve">SPD(MPS)</text>
<text class="rm" x="591.5 597.5 603.5 609.5 615.5" y="384" xml:space="preserve">RH(%)</text>
</g>
</svg>
</body></html>
